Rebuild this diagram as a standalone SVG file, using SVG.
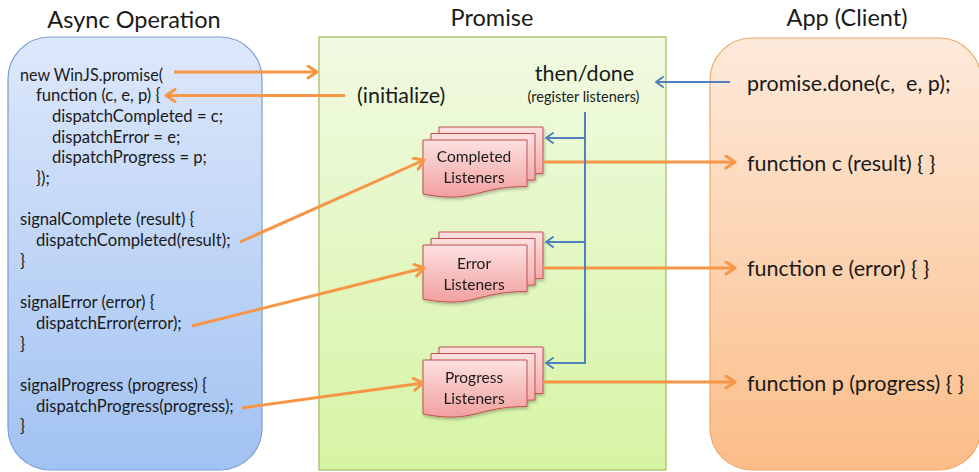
<svg xmlns="http://www.w3.org/2000/svg" width="979" height="472" viewBox="0 0 979 472">
<defs>
<linearGradient id="gBlue" x1="0" y1="0" x2="0" y2="1"><stop offset="0" stop-color="#dde8fb"/><stop offset="1" stop-color="#a2c2f2"/></linearGradient>
<linearGradient id="gGreen" x1="0" y1="0" x2="0" y2="1"><stop offset="0" stop-color="#f1fae2"/><stop offset="1" stop-color="#d6f4a4"/></linearGradient>
<linearGradient id="gOrange" x1="0" y1="0" x2="0" y2="1"><stop offset="0" stop-color="#fdeadb"/><stop offset="1" stop-color="#fbbd88"/></linearGradient>
<linearGradient id="gPink" x1="0" y1="0" x2="0" y2="1"><stop offset="0" stop-color="#fde0e0"/><stop offset="1" stop-color="#f2a0a0"/></linearGradient>
<filter id="sh" x="-10%" y="-10%" width="130%" height="140%"><feDropShadow dx="1" dy="2" stdDeviation="1.5" flood-color="#000" flood-opacity="0.25"/></filter>
<marker id="aO" markerUnits="userSpaceOnUse" markerWidth="14" markerHeight="16" refX="11" refY="7" orient="auto"><path d="M2,1 L11,7 L2,13" fill="none" stroke="#f79646" stroke-width="3" stroke-linecap="round" stroke-linejoin="round"/></marker>
<marker id="aB" markerUnits="userSpaceOnUse" markerWidth="12" markerHeight="14" refX="9" refY="6" orient="auto"><path d="M2,1 L9,6 L2,11" fill="none" stroke="#4f81bd" stroke-width="2" stroke-linecap="round" stroke-linejoin="round"/></marker>
<path id="doc" d="M0,0 H104 V46.5 C52,46.5 52,64 0,54 Z"/>
</defs>
<style>
.t{font-family:Lato,"Open Sans","Liberation Sans",sans-serif;fill:#1a1a1a}
.code{font-size:16.6px}
.title{font-size:23.5px;text-anchor:middle}
.big{font-size:21.5px}
.lab{font-size:15.5px;text-anchor:middle}
.o{fill:none;stroke:#f79646;stroke-width:3}
.b{fill:none;stroke:#4f81bd;stroke-width:2}
.d{fill:url(#gPink);stroke:#c0504d;stroke-width:1}
</style>

<g id="async">
<rect x="8" y="37" width="254" height="433" rx="42" fill="url(#gBlue)" stroke="#7aa0d2" stroke-width="1.2"/>
<text class="t title" x="134" y="28">Async Operation</text>
<text class="t code" x="20" y="80.5" textLength="143" lengthAdjust="spacingAndGlyphs">new WinJS.promise(</text>
<text class="t code" x="36" y="101.2">function (c, e, p) {</text>
<text class="t code" x="52" y="121.9">dispatchCompleted = c;</text>
<text class="t code" x="52" y="142.6">dispatchError = e;</text>
<text class="t code" x="52" y="163.3">dispatchProgress = p;</text>
<text class="t code" x="36" y="184">});</text>
<text class="t code" x="20" y="225.4">signalComplete (result) {</text>
<text class="t code" x="36" y="246.1">dispatchCompleted(result);</text>
<text class="t code" x="20" y="266.8">}</text>
<text class="t code" x="20" y="308.2">signalError (error) {</text>
<text class="t code" x="36" y="328.9">dispatchError(error);</text>
<text class="t code" x="20" y="349.6">}</text>
<text class="t code" x="20" y="391">signalProgress (progress) {</text>
<text class="t code" x="36" y="411.7">dispatchProgress(progress);</text>
<text class="t code" x="20" y="432.4">}</text>
</g>

<g id="promise">
<rect x="319" y="37" width="347" height="433" fill="url(#gGreen)" stroke="#9bbb59" stroke-width="1.2"/>
<text class="t title" x="492" y="26">Promise</text>
<text class="t big" x="357" y="102.5">(initialize)</text>
<text class="t big" x="584.5" y="80.5" text-anchor="middle">then/done</text>
<text class="t" x="583.5" y="102" font-size="14.5" text-anchor="middle">(register listeners)</text>
</g>

<g id="completed" filter="url(#sh)">
<use href="#doc" class="d" x="439" y="127"/>
<use href="#doc" class="d" x="431" y="133.5"/>
<use href="#doc" class="d" x="423" y="140"/>
<text class="t lab" x="474" y="161.5">Completed</text>
<text class="t lab" x="474" y="182.5">Listeners</text>
</g>
<g id="error" filter="url(#sh)">
<use href="#doc" class="d" x="439" y="232"/>
<use href="#doc" class="d" x="431" y="238.5"/>
<use href="#doc" class="d" x="423" y="245"/>
<text class="t lab" x="474" y="268.5">Error</text>
<text class="t lab" x="474" y="289.5">Listeners</text>
</g>
<g id="progress" filter="url(#sh)">
<use href="#doc" class="d" x="439" y="347"/>
<use href="#doc" class="d" x="431" y="353.5"/>
<use href="#doc" class="d" x="423" y="360"/>
<text class="t lab" x="474" y="382.5">Progress</text>
<text class="t lab" x="474" y="403.5">Listeners</text>
</g>

<g id="app">
<rect x="710" y="38" width="271" height="432" rx="42" fill="url(#gOrange)" stroke="#f0a868" stroke-width="1.2"/>
<text class="t title" x="847" y="26">App (Client)</text>
<text class="t big" x="747" y="90.5" xml:space="preserve">promise.done(c,  e, p);</text>
<text class="t big" x="747" y="170.5">function c (result) { }</text>
<text class="t big" x="747" y="275.5">function e (error) { }</text>
<text class="t big" x="747" y="390.5">function p (progress) { }</text>
</g>

<g id="connectors">
<line class="o" x1="174" y1="72" x2="317" y2="72" marker-end="url(#aO)"/>
<line class="o" x1="345" y1="95.5" x2="166" y2="95.5" marker-end="url(#aO)"/>
<line class="o" x1="240" y1="242" x2="424" y2="160" marker-end="url(#aO)"/>
<line class="o" x1="192" y1="326" x2="424" y2="268" marker-end="url(#aO)"/>
<line class="o" x1="242" y1="408" x2="423" y2="383" marker-end="url(#aO)"/>
<line class="o" x1="543" y1="162" x2="735" y2="162" marker-end="url(#aO)"/>
<line class="o" x1="543" y1="268" x2="735" y2="268" marker-end="url(#aO)"/>
<line class="o" x1="543" y1="382" x2="735" y2="382" marker-end="url(#aO)"/>
<line class="b" x1="730" y1="82" x2="656" y2="82" marker-end="url(#aB)"/>
<path class="b" d="M585,112 V363 H550"/>
<line class="b" x1="585" y1="138" x2="546" y2="138" marker-end="url(#aB)"/>
<line class="b" x1="585" y1="242" x2="546" y2="242" marker-end="url(#aB)"/>
<line class="b" x1="586" y1="363" x2="546" y2="363" marker-end="url(#aB)"/>
</g>
</svg>
